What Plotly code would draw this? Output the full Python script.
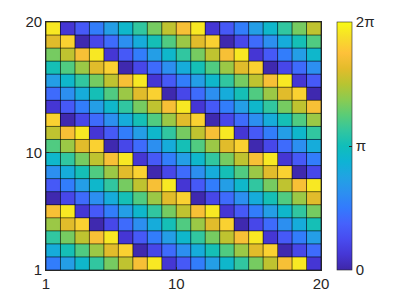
import plotly.graph_objects as go

# Cell edges (pcolor-style grid of 20x20 vertices -> 19x19 cells)
x_edges = list(range(1, 21))
y_edges = list(range(1, 21))

# Cell values in radians, rows from y=1 (bottom) to y=19 (top)
row01 = [1.63, 2.26, 2.89, 3.52, 4.15, 4.78, 5.40, 6.03, 0.38, 1.01, 1.63, 2.26, 2.89, 3.52, 4.15, 4.78, 5.40, 6.03, 0.38]
row02 = [2.58, 3.20, 3.83, 4.46, 5.09, 5.72, 0.06, 0.69, 1.32, 1.95, 2.58, 3.20, 3.83, 4.46, 5.09, 5.72, 0.06, 0.69, 1.32]
row03 = [3.52, 4.15, 4.78, 5.40, 6.03, 0.38, 1.01, 1.63, 2.26, 2.89, 3.52, 4.15, 4.78, 5.40, 6.03, 0.38, 1.01, 1.63, 2.26]
row04 = [4.46, 5.09, 5.72, 0.06, 0.69, 1.32, 1.95, 2.58, 3.20, 3.83, 4.46, 5.09, 5.72, 0.06, 0.69, 1.32, 1.95, 2.58, 3.20]
row05 = [5.40, 6.03, 0.38, 1.01, 1.63, 2.26, 2.89, 3.52, 4.15, 4.78, 5.40, 6.03, 0.38, 1.01, 1.63, 2.26, 2.89, 3.52, 4.15]
row06 = [0.06, 0.69, 1.32, 1.95, 2.58, 3.20, 3.83, 4.46, 5.09, 5.72, 0.06, 0.69, 1.32, 1.95, 2.58, 3.20, 3.83, 4.46, 5.09]
row07 = [1.01, 1.63, 2.26, 2.89, 3.52, 4.15, 4.78, 5.40, 6.03, 0.38, 1.01, 1.63, 2.26, 2.89, 3.52, 4.15, 4.78, 5.40, 6.03]
row08 = [1.95, 2.58, 3.20, 3.83, 4.46, 5.09, 5.72, 0.06, 0.69, 1.32, 1.95, 2.58, 3.20, 3.83, 4.46, 5.09, 5.72, 0.06, 0.69]
row09 = [2.89, 3.52, 4.15, 4.78, 5.40, 6.03, 0.38, 1.01, 1.63, 2.26, 2.89, 3.52, 4.15, 4.78, 5.40, 6.03, 0.38, 1.01, 1.63]
row10 = [3.83, 4.46, 5.09, 5.72, 0.06, 0.69, 1.32, 1.95, 2.58, 3.20, 3.83, 4.46, 5.09, 5.72, 0.06, 0.69, 1.32, 1.95, 2.58]
row11 = [4.78, 5.40, 6.03, 0.38, 1.01, 1.63, 2.26, 2.89, 3.52, 4.15, 4.78, 5.40, 6.03, 0.38, 1.01, 1.63, 2.26, 2.89, 3.52]
row12 = [5.72, 0.06, 0.69, 1.32, 1.95, 2.58, 3.20, 3.83, 4.46, 5.09, 5.72, 0.06, 0.69, 1.32, 1.95, 2.58, 3.20, 3.83, 4.46]
row13 = [0.38, 1.01, 1.63, 2.26, 2.89, 3.52, 4.15, 4.78, 5.40, 6.03, 0.38, 1.01, 1.63, 2.26, 2.89, 3.52, 4.15, 4.78, 5.40]
row14 = [1.32, 1.95, 2.58, 3.20, 3.83, 4.46, 5.09, 5.72, 0.06, 0.69, 1.32, 1.95, 2.58, 3.20, 3.83, 4.46, 5.09, 5.72, 0.06]
row15 = [2.26, 2.89, 3.52, 4.15, 4.78, 5.40, 6.03, 0.38, 1.01, 1.63, 2.26, 2.89, 3.52, 4.15, 4.78, 5.40, 6.03, 0.38, 1.01]
row16 = [3.20, 3.83, 4.46, 5.09, 5.72, 0.06, 0.69, 1.32, 1.95, 2.58, 3.20, 3.83, 4.46, 5.09, 5.72, 0.06, 0.69, 1.32, 1.95]
row17 = [4.15, 4.78, 5.40, 6.03, 0.38, 1.01, 1.63, 2.26, 2.89, 3.52, 4.15, 4.78, 5.40, 6.03, 0.38, 1.01, 1.63, 2.26, 2.89]
row18 = [5.09, 5.72, 0.06, 0.69, 1.32, 1.95, 2.58, 3.20, 3.83, 4.46, 5.09, 5.72, 0.06, 0.69, 1.32, 1.95, 2.58, 3.20, 3.83]
row19 = [6.03, 0.38, 1.01, 1.63, 2.26, 2.89, 3.52, 4.15, 4.78, 5.40, 6.03, 0.38, 1.01, 1.63, 2.26, 2.89, 3.52, 4.15, 4.78]

z = [row01, row02, row03, row04, row05, row06, row07, row08, row09, row10,
     row11, row12, row13, row14, row15, row16, row17, row18, row19]

axis_ticks = [1, 10, 20]
cbar_tickvals = [0, 3.141592653589793, 6.283185307179586]
cbar_ticktext = ["0", "π", "2π"]

# parula colormap
parula = [
    (0.000, (0.2422, 0.1504, 0.6603)),
    (0.0625, (0.2704, 0.2138, 0.8346)),
    (0.125, (0.2813, 0.2985, 0.9397)),
    (0.1875, (0.2710, 0.3860, 0.9898)),
    (0.25, (0.2006, 0.4803, 0.9906)),
    (0.3125, (0.1716, 0.5655, 0.9393)),
    (0.375, (0.1288, 0.6408, 0.8910)),
    (0.4375, (0.0535, 0.7006, 0.8299)),
    (0.5, (0.0638, 0.7446, 0.7292)),
    (0.5625, (0.1954, 0.7765, 0.6225)),
    (0.625, (0.3548, 0.8016, 0.4669)),
    (0.6875, (0.5470, 0.7957, 0.3159)),
    (0.75, (0.7218, 0.7703, 0.1924)),
    (0.8125, (0.8903, 0.7353, 0.1695)),
    (0.875, (0.9971, 0.7569, 0.2267)),
    (0.9375, (0.9671, 0.8654, 0.1636)),
    (1.0, (0.9769, 0.9839, 0.0805)),
]
colorscale = [[v, "rgb(%d,%d,%d)" % tuple(round(255 * c) for c in rgb)] for v, rgb in parula]

fig = go.Figure()
fig.add_trace(go.Heatmap(
    x=x_edges, y=y_edges, z=z,
    zmin=0, zmax=6.283185307179586,
    colorscale=colorscale, zsmooth=False,
    colorbar=dict(
        x=1.058, xanchor="left", xref="paper",
        y=0.5, yanchor="middle", len=1.0, lenmode="fraction",
        thickness=15, xpad=0, ypad=0,
        outlinewidth=0.6, outlinecolor="#262626",
        tickmode="array", tickvals=cbar_tickvals, ticktext=cbar_ticktext,
        ticks="inside", ticklen=3, tickcolor="#262626",
        tickfont=dict(family="Liberation Sans, Arial", size=15, color="#262626"),
    ),
    hoverinfo="skip",
))

# pcolor cell edges
gx, gy = [], []
for xv in x_edges:
    gx += [xv, xv, None]
    gy += [y_edges[0], y_edges[-1], None]
for yv in y_edges:
    gx += [x_edges[0], x_edges[-1], None]
    gy += [yv, yv, None]
fig.add_trace(go.Scatter(x=gx, y=gy, mode="lines",
                         line=dict(color="rgba(0,0,0,0.75)", width=0.8),
                         hoverinfo="skip", showlegend=False))

axis_style = dict(
    range=[1, 20], tickmode="array", tickvals=axis_ticks,
    ticks="inside", ticklen=3, tickcolor="#262626",
    showline=True, linecolor="#262626", linewidth=0.6, mirror=True,
    showgrid=False, zeroline=False, automargin=False,
    tickfont=dict(family="Liberation Sans, Arial", size=15, color="#262626"),
)
# the page adds an 8px body margin, so the figure is sized to fit after that offset
fig.update_layout(
    width=397, height=296,
    margin=dict(l=38, r=84, t=14, b=34, autoexpand=False),
    paper_bgcolor="white", plot_bgcolor="white",
    xaxis=axis_style, yaxis=axis_style,
    showlegend=False,
)
fig.write_html("out.html")
